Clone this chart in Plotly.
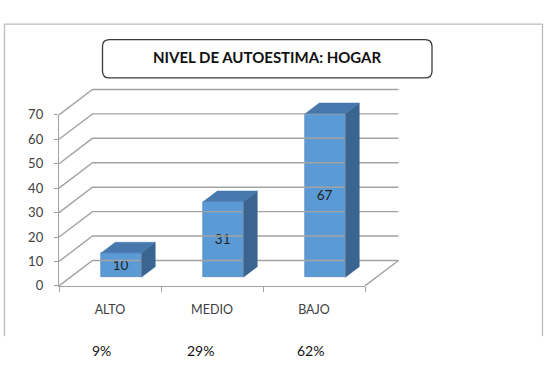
import plotly.graph_objects as go

# ---------------- data ----------------
categories = ["ALTO", "MEDIO", "BAJO"]
values = [10, 31, 67]
percent_labels = ["9%", "29%", "62%"]
y_ticks = [0, 10, 20, 30, 40, 50, 60, 70]
title_text = "NIVEL DE AUTOESTIMA: HOGAR"

# ---------------- geometry (pixels) ----------------
W, H = 549, 383
X0, CW = 110.0, 102.0        # centre of first category on the floor front / category width
Y0, PPU = 290.0, 2.55        # front zero line / pixels per value unit
DEPTH_X_PX, DEPTH_Y_PX = 33.5, 26.5
BAR_FRONT, BAR_DEPTH, BAR_W = 0.34, 0.415, 0.392

xr = [(0 - X0) / CW, (W - X0) / CW]
yr = [(Y0 - H) / PPU, Y0 / PPU]
DX = DEPTH_X_PX / CW
DY = DEPTH_Y_PX / PPU
n = len(categories)
left, right = -0.5, n - 0.5

GRID = "#A3A3A3"
FRONT = "#5B9BD5"
TOP = "#4677AD"
SIDE = "#3B6591"
TXT = "#404040"
FONT = "Lato"

fig = go.Figure()

# back wall / side wall grid lines
gx, gy = [], []
for v in y_ticks:
    gx += [left, left + DX, right + DX, None]
    gy += [v, v + DY, v + DY, None]
gx += [right, right + DX, None]
gy += [0, DY, None]
fig.add_trace(go.Scatter(x=gx, y=gy, mode="lines", line=dict(color=GRID, width=1.4),
                         hoverinfo="skip", showlegend=False))

# 3D bars: side and top faces
fx = [i + BAR_FRONT * DX for i in range(n)]
base = BAR_FRONT * DY
ddx, ddy = BAR_DEPTH * DX, BAR_DEPTH * DY
for cx, v in zip(fx, values):
    xl, xrr = cx - BAR_W / 2, cx + BAR_W / 2
    fig.add_trace(go.Scatter(
        x=[xrr, xrr, xrr + ddx, xrr + ddx, xrr],
        y=[base, base + v, base + v + ddy, base + ddy, base],
        fill="toself", fillcolor=SIDE, mode="lines", line=dict(color=SIDE, width=0.5),
        hoverinfo="skip", showlegend=False))
    fig.add_trace(go.Scatter(
        x=[xl, xrr, xrr + ddx, xl + ddx, xl],
        y=[base + v, base + v, base + v + ddy, base + v + ddy, base + v],
        fill="toself", fillcolor=TOP, mode="lines", line=dict(color=TOP, width=0.5),
        hoverinfo="skip", showlegend=False))

# front faces
fig.add_trace(go.Bar(
    x=fx, y=values, base=[base] * n, width=BAR_W,
    marker=dict(color=FRONT, line=dict(color="#4A7EBB", width=0.6)),
    text=[str(v) for v in values], textposition="inside", insidetextanchor="middle",
    textangle=0, textfont=dict(family=FONT, size=13.5, color="#1F1F1F"),
    hoverinfo="skip", showlegend=False))

# helper trace for the labelled front axes
fig.add_trace(go.Scatter(x=categories, y=values, xaxis="x2", yaxis="y2", mode="markers",
                         marker=dict(opacity=0), hoverinfo="skip", showlegend=False))

# title box (rounded rectangle, paper coords)
bx0, bx1, by0, by1, r = 102.5 / W, 432 / W, 1 - 73 / H, 1 - 33 / H, 7
rx, ry = r / W, r / H
path = (f"M {bx0+rx},{by1} L {bx1-rx},{by1} Q {bx1},{by1} {bx1},{by1-ry} "
        f"L {bx1},{by0+ry} Q {bx1},{by0} {bx1-rx},{by0} L {bx0+rx},{by0} "
        f"Q {bx0},{by0} {bx0},{by0+ry} L {bx0},{by1-ry} Q {bx0},{by1} {bx0+rx},{by1} Z")
shapes = [
    dict(type="path", xref="paper", yref="paper", path=path,
         line=dict(color="#3A3A3A", width=1.3), fillcolor="white"),
    dict(type="line", xref="paper", yref="paper", x0=4.5 / W, x1=542.5 / W,
         y0=1 - 16.8 / H, y1=1 - 16.8 / H, line=dict(color="#BDBDBD", width=1.3)),
    dict(type="line", xref="paper", yref="paper", x0=4.5 / W, x1=4.5 / W,
         y0=1 - 16.8 / H, y1=1 - 342.5 / H, line=dict(color="#BDBDBD", width=1.3)),
    dict(type="line", xref="paper", yref="paper", x0=542.5 / W, x1=542.5 / W,
         y0=1 - 16.8 / H, y1=1 - 342.5 / H, line=dict(color="#BDBDBD", width=1.3)),
]

annotations = [dict(xref="paper", yref="paper", x=267 / W, y=1 - 51.5 / H,
                    xanchor="center", yanchor="middle", text=f"<b>{title_text}</b>",
                    showarrow=False, font=dict(family=FONT, size=15, color="#111111"))]
pct_x = [101.7, 200, 310.5]
for px, t in zip(pct_x, percent_labels):
    annotations.append(dict(xref="paper", yref="paper", x=px / W, y=1 - 357 / H,
                            xanchor="center", yanchor="middle", text=t,
                            showarrow=False, font=dict(family=FONT, size=14, color="#111111")))

fig.update_layout(
    width=W, height=H, margin=dict(l=0, r=0, t=0, b=0),
    paper_bgcolor="white", plot_bgcolor="rgba(0,0,0,0)",
    shapes=shapes, annotations=annotations, showlegend=False, bargap=0,
    xaxis=dict(range=xr, visible=False, domain=[0, 1], fixedrange=True),
    yaxis=dict(range=yr, visible=False, domain=[0, 1], fixedrange=True),
    xaxis2=dict(domain=[(X0 + CW * left) / W, (X0 + CW * right) / W], anchor="y2",
                type="category", categoryorder="array", categoryarray=categories,
                range=[left, right], tickson="boundaries", ticks="outside", ticklen=5,
                tickcolor=GRID, showline=True, linecolor=GRID, linewidth=1.4,
                showgrid=False, zeroline=False, ticklabelstandoff=12,
                tickfont=dict(family=FONT, size=12.5, color=TXT)),
    yaxis2=dict(domain=[(H - Y0) / H, (H - (Y0 - y_ticks[-1] * PPU)) / H], anchor="x2",
                range=[y_ticks[0], y_ticks[-1]], tickvals=y_ticks, ticks="outside", ticklen=4,
                tickcolor=GRID, showline=True, linecolor=GRID, linewidth=1.4,
                showgrid=False, zeroline=False, ticklabelstandoff=8,
                tickfont=dict(family=FONT, size=13, color=TXT)),
)

fig.write_html("out.html")
